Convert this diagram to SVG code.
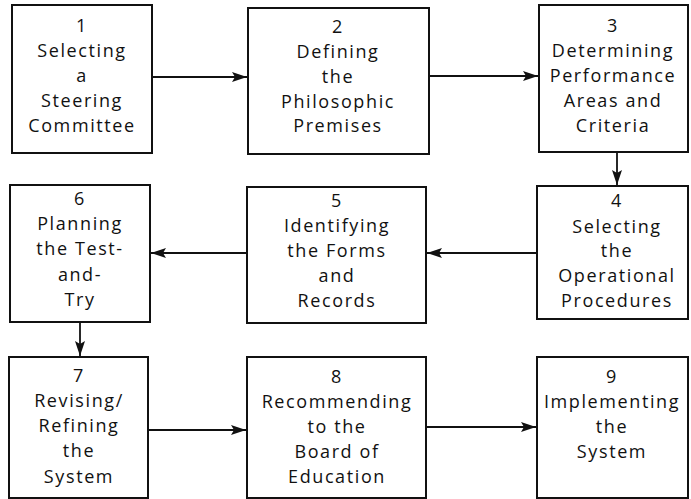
<svg xmlns="http://www.w3.org/2000/svg" width="691" height="499" viewBox="0 0 691 499">
<defs>
<marker id="ah" markerUnits="userSpaceOnUse" markerWidth="16" markerHeight="12" viewBox="0 0 16 12" refX="15" refY="6" orient="auto">
<path d="M0,1 L15,6 L0,11 L3,6 Z" fill="#111"/>
</marker>
</defs>
<style>
rect{fill:#fff;stroke:#111;stroke-width:2}
text{font-family:"Open Sans","Liberation Sans",sans-serif;font-size:18px;letter-spacing:1.6px;fill:#111;text-anchor:middle}
.c line{stroke:#111;stroke-width:1.8}
</style>
<rect x="0" y="0" width="691" height="499" style="fill:#fff;stroke:none"/>
<g class="c" id="connectors">
<line x1="152" y1="77" x2="247" y2="77" marker-end="url(#ah)"/>
<line x1="429" y1="76" x2="538" y2="76" marker-end="url(#ah)"/>
<line x1="617" y1="152" x2="617" y2="185" marker-end="url(#ah)"/>
<line x1="537" y1="253" x2="427" y2="253" marker-end="url(#ah)"/>
<line x1="247" y1="253" x2="151" y2="253" marker-end="url(#ah)"/>
<line x1="80" y1="322" x2="80" y2="356" marker-end="url(#ah)"/>
<line x1="148" y1="430" x2="246" y2="430" marker-end="url(#ah)"/>
<line x1="426" y1="427" x2="536" y2="427" marker-end="url(#ah)"/>
</g>
<g id="n1">
<rect x="12" y="5" width="140" height="148"/>
<text x="82" y="32">1</text><text x="82" y="57">Selecting</text><text x="82" y="82">a</text><text x="82" y="107">Steering</text><text x="82" y="132">Committee</text>
</g>
<g id="n2">
<rect x="248" y="8" width="181" height="146"/>
<text x="338" y="33">2</text><text x="338" y="58">Defining</text><text x="338" y="83">the</text><text x="338" y="108">Philosophic</text><text x="338" y="132">Premises</text>
</g>
<g id="n3">
<rect x="539" y="5" width="149" height="147"/>
<text x="613" y="32">3</text><text x="613" y="57">Determining</text><text x="613" y="82">Performance</text><text x="613" y="107">Areas and</text><text x="613" y="132">Criteria</text>
</g>
<g id="n4">
<rect x="537" y="186" width="151" height="133"/>
<text x="617" y="207">4</text><text x="617" y="233">Selecting</text><text x="617" y="257">the</text><text x="617" y="282">Operational</text><text x="617" y="307">Procedures</text>
</g>
<g id="n5">
<rect x="247" y="187" width="179" height="136"/>
<text x="337" y="207">5</text><text x="337" y="232">Identifying</text><text x="337" y="257">the Forms</text><text x="337" y="282">and</text><text x="337" y="307">Records</text>
</g>
<g id="n6">
<rect x="10" y="185" width="140" height="137"/>
<text x="80" y="205">6</text><text x="80" y="230">Planning</text><text x="80" y="255">the Test-</text><text x="80" y="281">and-</text><text x="80" y="306">Try</text>
</g>
<g id="n7">
<rect x="9" y="357" width="139" height="141"/>
<text x="79" y="382">7</text><text x="79" y="407">Revising/</text><text x="79" y="432">Refining</text><text x="79" y="457">the</text><text x="79" y="483">System</text>
</g>
<g id="n8">
<rect x="247" y="357" width="179" height="141"/>
<text x="337" y="383">8</text><text x="337" y="408">Recommending</text><text x="337" y="433">to the</text><text x="337" y="458">Board of</text><text x="337" y="483">Education</text>
</g>
<g id="n9">
<rect x="537" y="357" width="151" height="141"/>
<text x="612" y="383">9</text><text x="612" y="408">Implementing</text><text x="612" y="433">the</text><text x="612" y="458">System</text>
</g>
</svg>
